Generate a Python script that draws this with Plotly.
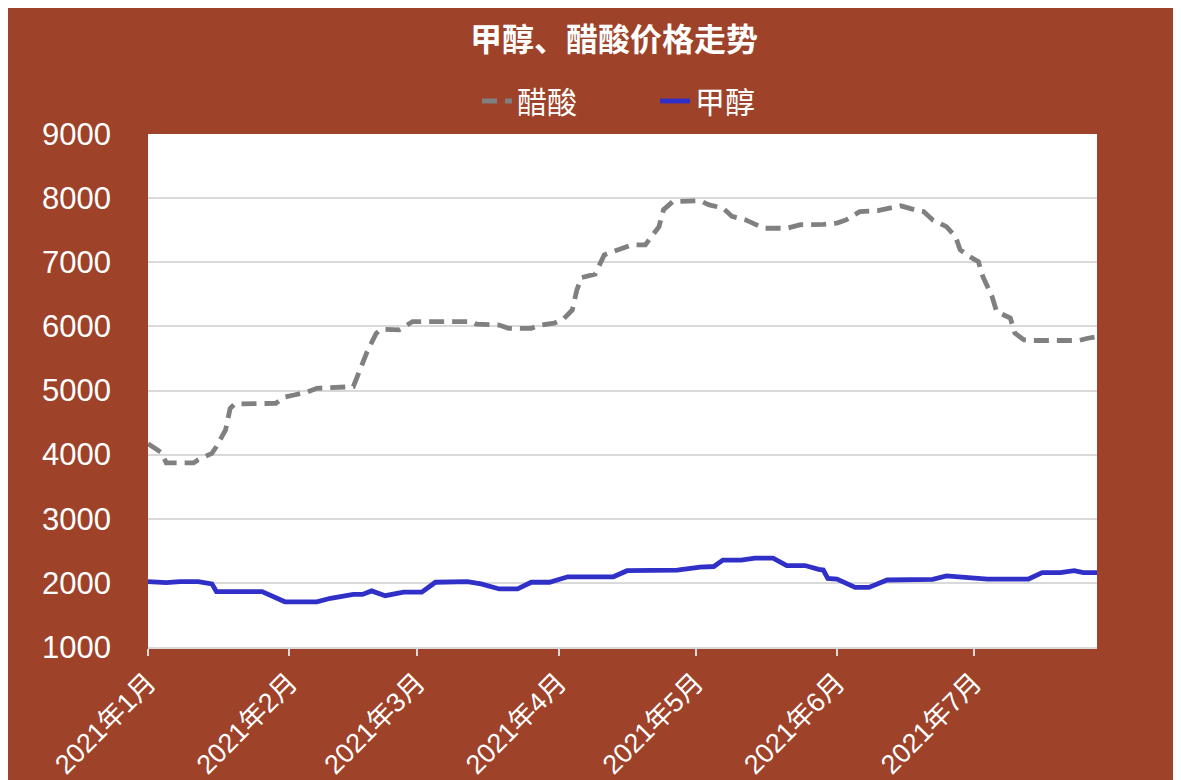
import plotly.graph_objects as go

# 醋酸 (acetic acid) price series
acetic_dates = [
    "2021-01-01", "2021-01-04", "2021-01-05", "2021-01-11", "2021-01-12", "2021-01-15",
    "2021-01-16", "2021-01-18", "2021-01-19", "2021-01-20", "2021-01-29", "2021-01-31",
    "2021-02-02", "2021-02-05", "2021-02-07", "2021-02-15", "2021-02-16", "2021-02-18",
    "2021-02-20", "2021-02-21", "2021-02-25", "2021-02-28", "2021-03-13", "2021-03-14",
    "2021-03-19", "2021-03-21", "2021-03-26", "2021-03-28", "2021-03-31", "2021-04-02",
    "2021-04-04", "2021-04-05", "2021-04-06", "2021-04-09", "2021-04-11", "2021-04-14",
    "2021-04-17", "2021-04-20", "2021-04-21", "2021-04-23", "2021-04-24", "2021-04-26",
    "2021-05-02", "2021-05-04", "2021-05-07", "2021-05-09", "2021-05-12", "2021-05-14",
    "2021-05-16", "2021-05-21", "2021-05-24", "2021-05-29", "2021-06-01", "2021-06-03",
    "2021-06-06", "2021-06-10", "2021-06-13", "2021-06-15", "2021-06-19", "2021-06-20",
    "2021-06-22", "2021-06-25", "2021-06-27", "2021-06-28", "2021-06-30", "2021-07-02",
    "2021-07-03", "2021-07-05", "2021-07-06", "2021-07-09", "2021-07-10", "2021-07-12",
    "2021-07-14", "2021-07-24", "2021-07-26", "2021-07-28",
]
acetic_values = [
    4170, 4030, 3870, 3870, 3920, 4020,
    4125, 4385, 4720, 4790, 4800, 4900,
    4930, 4980, 5035, 5060, 5240, 5600,
    5890, 5955, 5945, 6075, 6075, 6035,
    6020, 5970, 5970, 6020, 6050, 6110,
    6255, 6570, 6760, 6815, 7115, 7200,
    7270, 7270, 7375, 7555, 7820, 7945,
    7960, 7895, 7845, 7715, 7660, 7585,
    7530, 7530, 7585, 7590, 7610, 7660,
    7790, 7805, 7845, 7880, 7800, 7790,
    7660, 7555, 7400, 7195, 7090, 7010,
    6775, 6465, 6230, 6130, 5895, 5790,
    5780, 5780, 5815, 5840,
]

# 甲醇 (methanol) price series
methanol_dates = [
    "2021-01-01", "2021-01-04", "2021-01-05", "2021-01-08", "2021-01-12", "2021-01-15",
    "2021-01-16", "2021-01-26", "2021-01-29", "2021-01-30", "2021-01-31", "2021-02-07",
    "2021-02-10", "2021-02-15", "2021-02-17", "2021-02-19", "2021-02-20", "2021-02-22",
    "2021-02-26", "2021-03-02", "2021-03-05", "2021-03-09", "2021-03-12", "2021-03-14",
    "2021-03-15", "2021-03-19", "2021-03-23", "2021-03-26", "2021-03-30", "2021-04-03",
    "2021-04-13", "2021-04-16", "2021-04-23", "2021-04-27", "2021-05-02", "2021-05-05",
    "2021-05-07", "2021-05-11", "2021-05-14", "2021-05-18", "2021-05-21", "2021-05-25",
    "2021-05-28", "2021-05-29", "2021-05-30", "2021-06-01", "2021-06-05", "2021-06-08",
    "2021-06-12", "2021-06-15", "2021-06-18", "2021-06-22", "2021-06-25", "2021-06-29",
    "2021-07-04", "2021-07-13", "2021-07-16", "2021-07-20", "2021-07-23", "2021-07-25",
    "2021-07-28",
]
methanol_values = [
    2020, 2010, 2005, 2020, 2020, 1985,
    1865, 1865, 1760, 1745, 1705, 1705,
    1760, 1820, 1820, 1875, 1850, 1800,
    1855, 1855, 2010, 2010, 2020, 1995,
    1985, 1905, 1905, 2010, 2010, 2095,
    2095, 2190, 2190, 2200, 2245, 2255,
    2355, 2355, 2385, 2385, 2270, 2270,
    2210, 2200, 2070, 2060, 1930, 1930,
    2045, 2045, 2055, 2055, 2110, 2095,
    2060, 2060, 2160, 2160, 2190, 2160,
    2160,
]

tick_dates = ["2021-01-01", "2021-02-01", "2021-03-01", "2021-04-01",
              "2021-05-01", "2021-06-01", "2021-07-01"]
tick_labels = ["2021年1月", "2021年2月", "2021年3月", "2021年4月",
               "2021年5月", "2021年6月", "2021年7月"]
y_ticks = [1000, 2000, 3000, 4000, 5000, 6000, 7000, 8000, 9000]

RUST = "#9E4229"
FONT = "Liberation Sans, Arial, Noto Sans CJK SC"

fig = go.Figure()
fig.add_trace(go.Scatter(
    x=acetic_dates, y=acetic_values, name="醋酸", mode="lines",
    line=dict(color="#808080", width=4.8, dash="15px,8px"),
))
fig.add_trace(go.Scatter(
    x=methanol_dates, y=methanol_values, name="甲醇", mode="lines",
    line=dict(color="#3030C8", width=4.8),
))

# page is offset by the 8px body margin
W, H = 1173, 772
ML, MT = 140, 126
PW, PH = 949, 513
MR, MB = W - ML - PW, H - MT - PH

fig.update_layout(
    width=W, height=H,
    margin=dict(l=ML, r=MR, t=MT, b=MB, autoexpand=False),
    paper_bgcolor=RUST, plot_bgcolor="white",
    font=dict(family=FONT, color="white"),
    title=dict(text="<b>甲醇、醋酸价格走势</b>", font=dict(size=32, color="white",
               family="Noto Sans CJK SC"),
               x=(606 - ML) / PW, xref="paper", xanchor="center",
               y=1 - 32 / H, yref="container", yanchor="middle"),
    legend=dict(orientation="h", x=(647 - ML) / PW, xanchor="center",
                y=1 + (MT - 93) / PH, yanchor="middle",
                font=dict(size=30, color="white", family="Noto Sans CJK SC"),
                bgcolor="rgba(0,0,0,0)", entrywidth=133, entrywidthmode="pixels"),
    showlegend=True,
    xaxis=dict(type="date", range=["2021-01-01", "2021-07-28"],
               tickvals=tick_dates, ticktext=tick_labels, tickangle=-45,
               tickfont=dict(size=27, color="white", family=FONT),
               showgrid=False, showline=True, linecolor="#D9D9D9", linewidth=2,
               ticks="outside", ticklen=7, tickwidth=2, tickcolor="#D9D9D9",
               zeroline=False),
    yaxis=dict(range=[1000, 9000], tickvals=y_ticks,
               tickfont=dict(size=31, color="white", family=FONT),
               showgrid=True, gridcolor="#D9D9D9", gridwidth=2,
               showline=False, zeroline=False, ticks="", ticklabelstandoff=36),
)

fig.write_html("out.html")
